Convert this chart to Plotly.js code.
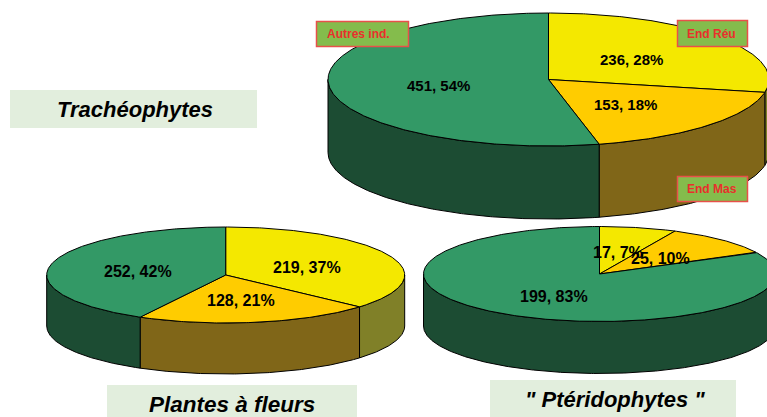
<!DOCTYPE html>
<html><head><meta charset="utf-8">
<script src="https://cdn.plot.ly/plotly-3.0.0.min.js"></script>
<style>html,body{margin:0;padding:0;background:#fff}#c{width:767px;height:417px}</style>
</head><body><div id="c"></div>
<script>
// Data (clockwise from 12 o'clock)
const categories = ["End Réu", "End Mas", "Autres ind."];
const tracheophytes = [236, 153, 451];
const plantesFleurs = [219, 128, 252];
const pteridophytes = [17, 25, 199];
const percentLabels = {t:[28,18,54], p:[37,21,42], f:[7,10,83]};

// Styles and layout
const topColors = ["#F4E800", "#FFCC00", "#339966"];
const sideColors = ["#808028", "#806618", "#1C4C33"];
const pies = [
  {vals: tracheophytes, pct: percentLabels.t, cx: 548.5, cy: 79.5, rx: 220.5, ry: 66.5, d: 73, fs: 15,
   lab: [[631,59],[625,104],[438,85]]},
  {vals: plantesFleurs, pct: percentLabels.p, cx: 225.7, cy: 275, rx: 179, ry: 48, d: 51, fs: 16,
   lab: [[307,267],[241,300],[138,271]]},
  {vals: pteridophytes, pct: percentLabels.f, cx: 599.5, cy: 274, rx: 176, ry: 47.5, d: 52, fs: 16,
   lab: [[618,252],[660,258],[554,296]]}
];
const titleBoxes = [
  {text: "Trachéophytes", x0: 10, x1: 257, y0: 90, y1: 128, ty: 109.5, tx: 134.5, fs: 22},
  {text: "Plantes à fleurs", x0: 107, x1: 357, y0: 385, y1: 417, ty: 404, tx: 232, fs: 22.5},
  {text: "\" Ptéridophytes \"", x0: 490, x1: 736, y0: 380, y1: 417, ty: 399, tx: 614.5, fs: 22}
];
const tagBoxes = [
  {text: categories[2], x0: 316.5, x1: 408.5, y0: 21.5, y1: 46.5, tx: 358},
  {text: categories[0], x0: 677.5, x1: 747.5, y0: 20.5, y1: 46.5, tx: 711.5},
  {text: categories[1], x0: 677.5, x1: 747.5, y0: 176.5, y1: 201.5, tx: 711.5}
];

const traces = [], annotations = [], shapes = [];
const pt = (p, a, dz) => [p.cx + p.rx * Math.sin(a), p.cy - p.ry * Math.cos(a) + dz];
const arc = (p, a0, a1, dz) => {
  const n = Math.max(2, Math.ceil(Math.abs(a1 - a0) / 0.01)), out = [];
  for (let i = 0; i <= n; i++) out.push(pt(p, a0 + (a1 - a0) * i / n, dz));
  return out;
};
const addPoly = (pts, fill) => traces.push({
  type: "scatter", mode: "lines", x: pts.map(q => q[0]), y: pts.map(q => q[1]),
  fill: "toself", fillcolor: fill, line: {color: "#000", width: 1}, hoverinfo: "skip", showlegend: false
});

pies.forEach(p => {
  const total = p.vals.reduce((s, v) => s + v, 0);
  let acc = 0;
  const spans = p.vals.map(v => { const a0 = acc / total * 2 * Math.PI; acc += v; return [a0, acc / total * 2 * Math.PI]; });
  // front walls (only the near half of the ellipse)
  spans.forEach((s, i) => {
    const a0 = Math.max(s[0], Math.PI / 2), a1 = Math.min(s[1], 3 * Math.PI / 2);
    if (a1 > a0) {
      const top = arc(p, a0, a1, 0), bot = arc(p, a1, a0, p.d);
      addPoly(top.concat(bot, [top[0]]), sideColors[i]);
    }
  });
  // top faces
  spans.forEach((s, i) => {
    const c = [[p.cx, p.cy]];
    addPoly(c.concat(arc(p, s[0], s[1], 0), c), topColors[i]);
  });
  p.vals.forEach((v, i) => annotations.push({
    x: p.lab[i][0], y: p.lab[i][1], xref: "x", yref: "y", showarrow: false,
    text: "<b>" + v + ", " + p.pct[i] + "%</b>",
    font: {family: "Liberation Sans, Arial, sans-serif", size: p.fs, color: "#000"}
  }));
});

titleBoxes.forEach(b => {
  shapes.push({type: "rect", layer: "above", xref: "x", yref: "y", x0: b.x0, x1: b.x1, y0: b.y0, y1: b.y1,
    fillcolor: "#E2EEDD", line: {width: 0}});
  annotations.push({x: b.tx, y: b.ty, xref: "x", yref: "y", showarrow: false,
    text: "<b><i>" + b.text + "</i></b>",
    font: {family: "Liberation Sans, Arial, sans-serif", size: b.fs, color: "#000"}});
});
tagBoxes.forEach(b => {
  shapes.push({type: "rect", layer: "above", xref: "x", yref: "y", x0: b.x0, x1: b.x1, y0: b.y0, y1: b.y1,
    fillcolor: "#84BC4C", line: {color: "#E8504A", width: 1.5}});
  annotations.push({x: b.tx, y: (b.y0 + b.y1) / 2, xref: "x", yref: "y", showarrow: false,
    text: "<b>" + b.text + "</b>",
    font: {family: "Liberation Sans, Arial, sans-serif", size: 12, color: "#E8302C"}});
});

Plotly.newPlot("c", traces, {
  width: 767, height: 417, margin: {l: 0, r: 0, t: 0, b: 0},
  paper_bgcolor: "#fff", plot_bgcolor: "#fff", showlegend: false, hovermode: false,
  xaxis: {range: [0, 767], visible: false, fixedrange: true},
  yaxis: {range: [417, 0], visible: false, fixedrange: true},
  shapes, annotations
}, {displayModeBar: false, staticPlot: true});
</script></body></html>
